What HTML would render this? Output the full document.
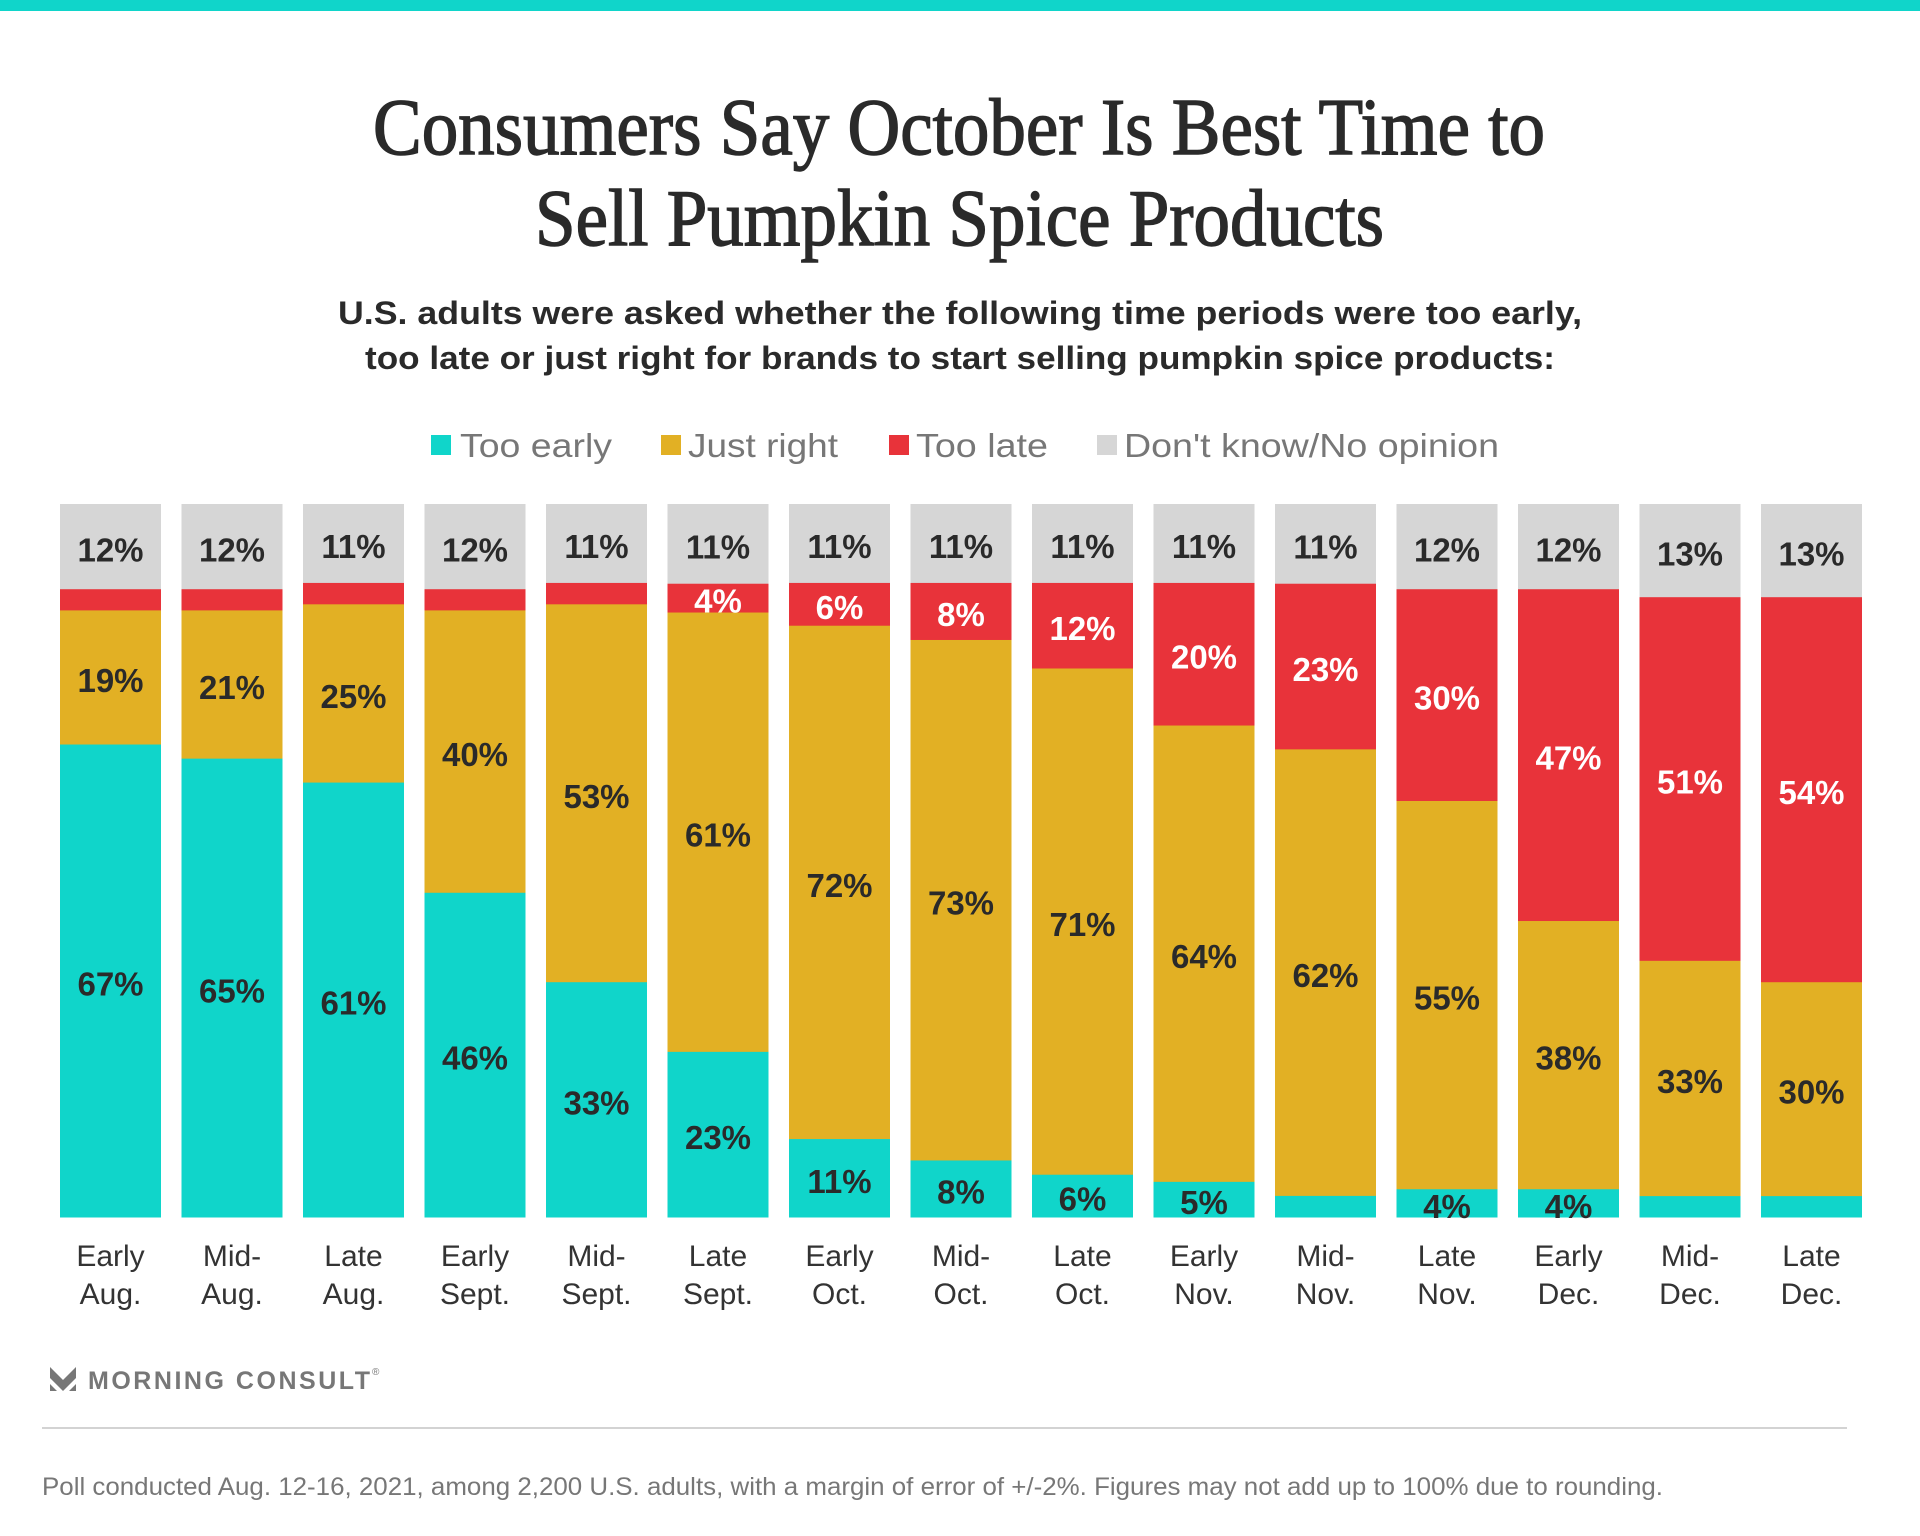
<!DOCTYPE html>
<html><head><meta charset="utf-8"><style>
html,body{margin:0;padding:0;background:#fff}
svg{display:block}
</style></head><body>
<svg id="chart" width="1920" height="1536" viewBox="0 0 1920 1536" xmlns="http://www.w3.org/2000/svg">
<rect x="0" y="0" width="1920" height="11" fill="#10d5ca"/>
<g font-family="'Liberation Serif', serif" font-size="80" fill="#2a2a2a" stroke="#2a2a2a" stroke-width="1.4" text-anchor="start">
<text x="373" y="154" textLength="1172" lengthAdjust="spacingAndGlyphs">Consumers Say October Is Best Time to</text>
<text x="535" y="245" textLength="849" lengthAdjust="spacingAndGlyphs">Sell Pumpkin Spice Products</text>
</g>
<g font-family="'Liberation Sans', sans-serif" font-size="32" font-weight="bold" fill="#2a2a2a">
<text x="338" y="324" textLength="1244" lengthAdjust="spacingAndGlyphs">U.S. adults were asked whether the following time periods were too early,</text>
<text x="365" y="369" textLength="1190" lengthAdjust="spacingAndGlyphs">too late or just right for brands to start selling pumpkin spice products:</text>
</g>
<g font-family="'Liberation Sans', sans-serif" font-size="33" fill="#777">
<g><rect x="431" y="435" width="20" height="20" fill="#10d5ca"/><text x="460" y="457" textLength="152" lengthAdjust="spacingAndGlyphs">Too early</text></g>
<g><rect x="661" y="435" width="20" height="20" fill="#e2b024"/><text x="688" y="457" textLength="150" lengthAdjust="spacingAndGlyphs">Just right</text></g>
<g><rect x="889" y="435" width="20" height="20" fill="#e8333a"/><text x="916" y="457" textLength="132" lengthAdjust="spacingAndGlyphs">Too late</text></g>
<g><rect x="1097" y="435" width="20" height="20" fill="#d6d6d6"/><text x="1124" y="457" textLength="375" lengthAdjust="spacingAndGlyphs">Don't know/No opinion</text></g>
</g>
<g id="bars"></g>
<g id="xlabels" font-family="'Liberation Sans', sans-serif" font-size="30" fill="#333" text-anchor="middle"></g>
<g>
<path d="M50 1367 L63 1380 L76 1367 L76 1378 L63 1391 L50 1378 Z M50 1384 L57 1391 L50 1391 Z M76 1384 L69 1391 L76 1391 Z" fill="#777"/>
<text x="88" y="1389" font-family="'Liberation Sans', sans-serif" font-size="25" font-weight="bold" fill="#777" textLength="282" lengthAdjust="spacing">MORNING CONSULT</text>
<text x="372" y="1375" font-family="'Liberation Sans', sans-serif" font-size="10" fill="#777">®</text>
</g>
<rect x="42" y="1427" width="1805" height="2" fill="#d3d3d3"/>
<text x="42" y="1495" font-family="'Liberation Sans', sans-serif" font-size="25" fill="#777" textLength="1621" lengthAdjust="spacingAndGlyphs">Poll conducted Aug. 12-16, 2021, among 2,200 U.S. adults, with a margin of error of +/-2%. Figures may not add up to 100% due to rounding.</text>
</svg>
<script>
const categories = [["Early","Aug."],["Mid-","Aug."],["Late","Aug."],["Early","Sept."],["Mid-","Sept."],["Late","Sept."],["Early","Oct."],["Mid-","Oct."],["Late","Oct."],["Early","Nov."],["Mid-","Nov."],["Late","Nov."],["Early","Dec."],["Mid-","Dec."],["Late","Dec."]];
const tooEarly = [67,65,61,46,33,23,11,8,6,5,3,4,4,3,3];
const justRight = [19,21,25,40,53,61,72,73,71,64,62,55,38,33,30];
const tooLate = [3,3,3,3,3,4,6,8,12,20,23,30,47,51,54];
const dontKnow = [12,12,11,12,11,11,11,11,11,11,11,12,12,13,13];
const showEarly = [true,true,true,true,true,true,true,true,true,true,false,true,true,false,false];
const showLate = [false,false,false,false,false,true,true,true,true,true,true,true,true,true,true];

const NS = "http://www.w3.org/2000/svg";
const X0 = 60, PITCH = 121.5, BW = 101, TOP = 504, BOTTOM = 1217;
function xPos(i){ return X0 + i*PITCH; }
function yScale(v, total){ return (BOTTOM - TOP) * v / total; }
const series = [
  {name:"too-early", vals:tooEarly, color:"#10d5ca", text:"#2a2a2a", show:showEarly},
  {name:"just-right", vals:justRight, color:"#e2b024", text:"#2a2a2a", show:null},
  {name:"too-late", vals:tooLate, color:"#e8333a", text:"#ffffff", show:showLate},
  {name:"dont-know", vals:dontKnow, color:"#d6d6d6", text:"#2a2a2a", show:null}
];
const gBars = document.getElementById('bars');
const gX = document.getElementById('xlabels');
categories.forEach((c, i) => {
  const total = tooEarly[i] + justRight[i] + tooLate[i] + dontKnow[i];
  let y = BOTTOM;
  series.forEach(s => {
    const v = s.vals[i];
    const h = yScale(v, total);
    y -= h;
    const r = document.createElementNS(NS, 'rect');
    
    
    r.setAttribute('x', xPos(i));
    r.setAttribute('y', y);
    r.setAttribute('width', BW);
    r.setAttribute('height', h + 0.5);
    r.setAttribute('fill', s.color);
    gBars.appendChild(r);
    if (!s.show || s.show[i]) {
      const t = document.createElementNS(NS, 'text');
      
      
      t.setAttribute('x', xPos(i) + BW/2);
      t.setAttribute('y', y + h/2 + 15);
      t.setAttribute('text-anchor', 'middle');
      t.setAttribute('font-family', "'Liberation Sans', sans-serif");
      t.setAttribute('font-weight', 'bold');
      t.setAttribute('font-size', '33');
      t.setAttribute('fill', s.text);
      t.textContent = v + '%';
      gBars.appendChild(t);
    }
  });
  c.forEach((line, k) => {
    const t = document.createElementNS(NS, 'text');
    
    
    t.setAttribute('x', xPos(i) + BW/2);
    t.setAttribute('y', 1266 + k*38);
    t.textContent = line;
    gX.appendChild(t);
  });
});
</script>
</body></html>
